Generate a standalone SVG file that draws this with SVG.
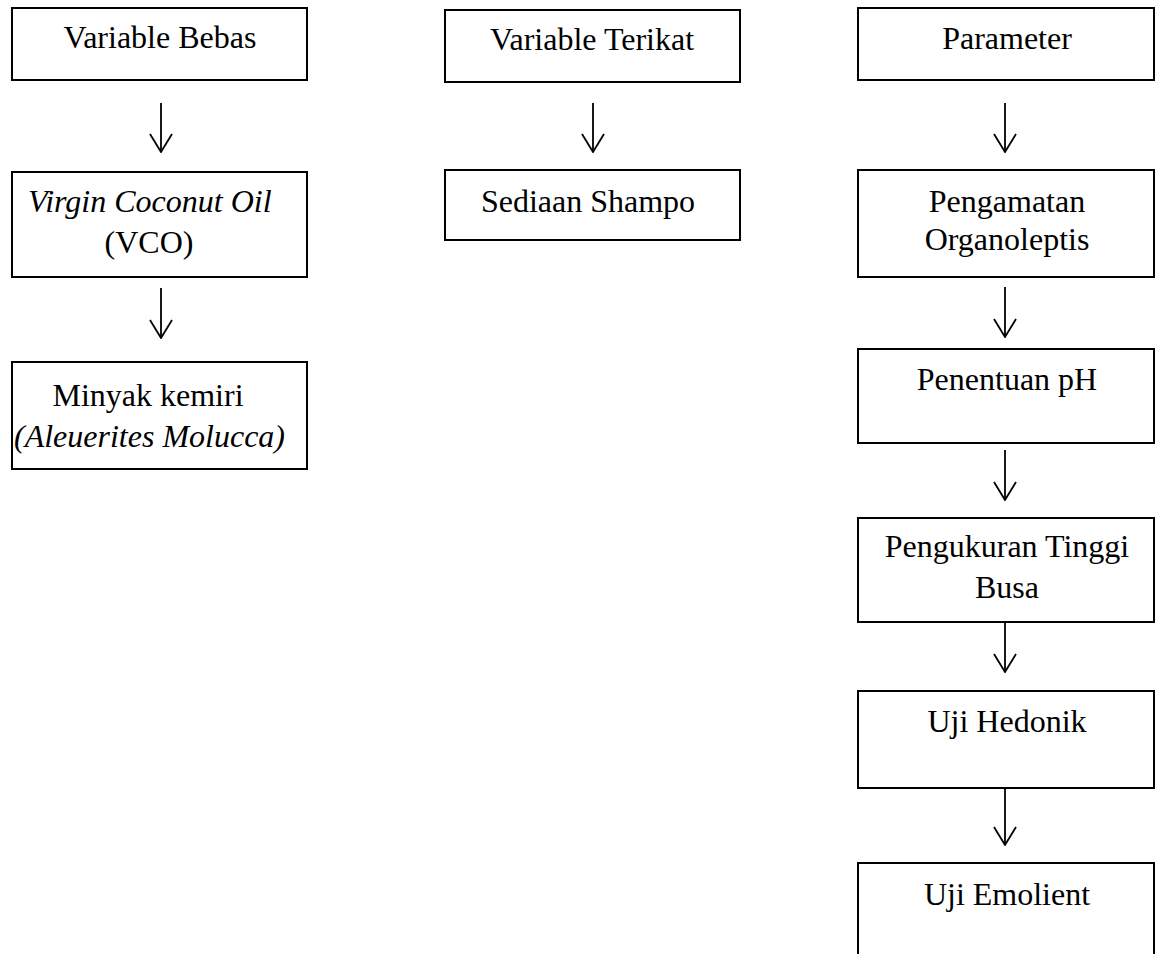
<svg xmlns="http://www.w3.org/2000/svg" width="1156" height="954" viewBox="0 0 1156 954">
<style>
.box{fill:#fff;stroke:#000;stroke-width:2}
.t{font-family:"Liberation Serif","Times New Roman",serif;font-size:32px;fill:#000;text-anchor:middle}
.i{font-style:italic}
.s{text-anchor:start}
.c{stroke:#000;stroke-width:1.8;fill:none}
</style>
<defs>
<marker id="ah" viewBox="0 0 20 24" refX="19" refY="12" markerWidth="20" markerHeight="24" markerUnits="userSpaceOnUse" orient="auto">
<path d="M1,1 L19,12 L1,23" fill="none" stroke="#000" stroke-width="1.8"/>
</marker>
</defs>
<rect width="1156" height="954" fill="#fff"/>
<g id="connectors">
<line class="c" x1="161" y1="103" x2="161" y2="152" marker-end="url(#ah)"/>
<line class="c" x1="161" y1="288" x2="161" y2="338" marker-end="url(#ah)"/>
<line class="c" x1="593" y1="103" x2="593" y2="152" marker-end="url(#ah)"/>
<line class="c" x1="1005" y1="103" x2="1005" y2="152" marker-end="url(#ah)"/>
<line class="c" x1="1005" y1="287" x2="1005" y2="337" marker-end="url(#ah)"/>
<line class="c" x1="1005" y1="450" x2="1005" y2="500" marker-end="url(#ah)"/>
<line class="c" x1="1005" y1="622" x2="1005" y2="672" marker-end="url(#ah)"/>
<line class="c" x1="1005" y1="788" x2="1005" y2="845" marker-end="url(#ah)"/>
</g>
<g id="variable-bebas">
<rect class="box" x="12" y="8" width="295" height="72"/>
<text class="t" x="160" y="48">Variable Bebas</text>
</g>
<g id="vco">
<rect class="box" x="12" y="172" width="295" height="105"/>
<text class="t i s" x="28" y="212">Virgin Coconut Oil</text>
<text class="t" x="149" y="253">(VCO)</text>
</g>
<g id="minyak-kemiri">
<rect class="box" x="12" y="362" width="295" height="107"/>
<text class="t" x="148" y="406">Minyak kemiri</text>
<text class="t i s" x="14" y="447">(Aleuerites Molucca)</text>
</g>
<g id="variable-terikat">
<rect class="box" x="445" y="10" width="295" height="72"/>
<text class="t" x="592" y="50">Variable Terikat</text>
</g>
<g id="sediaan-shampo">
<rect class="box" x="445" y="170" width="295" height="70"/>
<text class="t" x="588" y="212">Sediaan Shampo</text>
</g>
<g id="parameter">
<rect class="box" x="858" y="8" width="296" height="72"/>
<text class="t" x="1007" y="49">Parameter</text>
</g>
<g id="organoleptis">
<rect class="box" x="858" y="170" width="296" height="107"/>
<text class="t" x="1007" y="212">Pengamatan</text>
<text class="t" x="1007" y="250">Organoleptis</text>
</g>
<g id="ph">
<rect class="box" x="858" y="349" width="296" height="94"/>
<text class="t" x="1007" y="390">Penentuan pH</text>
</g>
<g id="busa">
<rect class="box" x="858" y="518" width="296" height="104"/>
<text class="t" x="1007" y="557">Pengukuran Tinggi</text>
<text class="t" x="1007" y="598">Busa</text>
</g>
<g id="hedonik">
<rect class="box" x="858" y="691" width="296" height="97"/>
<text class="t" x="1007" y="732">Uji Hedonik</text>
</g>
<g id="emolient">
<rect class="box" x="858" y="863" width="296" height="110"/>
<text class="t" x="1007" y="905">Uji Emolient</text>
</g>
</svg>
